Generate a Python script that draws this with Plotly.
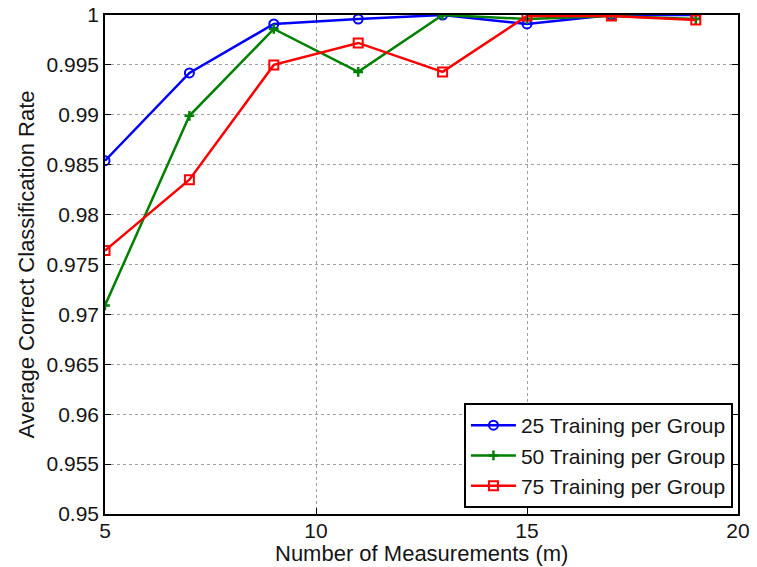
import plotly.graph_objects as go

m_values = [5, 7, 9, 11, 13, 15, 17, 19]
rate_25 = [0.9854, 0.9942, 0.9991, 0.9996, 1.0, 0.9991, 1.0, 1.0]
rate_50 = [0.9709, 0.9899, 0.9986, 0.9943, 1.0, 0.9996, 0.9999, 0.9996]
rate_75 = [0.9764, 0.9835, 0.9950, 0.9972, 0.9943, 0.9999, 0.9999, 0.9995]

x_ticks = [5, 10, 15, 20]
y_ticks = [0.95, 0.955, 0.96, 0.965, 0.97, 0.975, 0.98, 0.985, 0.99, 0.995, 1.0]
y_ticktext = ["0.95", "0.955", "0.96", "0.965", "0.97", "0.975", "0.98", "0.985", "0.99", "0.995", "1"]

FONT = "Liberation Sans, Arial, Helvetica"
TXT = "#151515"

fig = go.Figure()
fig.add_trace(go.Scatter(x=m_values, y=rate_25, mode="lines+markers", name="25 Training per Group",
                         line=dict(color="#0000FF", width=2.5),
                         marker=dict(symbol="circle-open", size=9, color="#0000FF", line=dict(width=2))))
fig.add_trace(go.Scatter(x=m_values, y=rate_50, mode="lines+markers", name="50 Training per Group",
                         line=dict(color="#008000", width=2.5),
                         marker=dict(symbol="cross-thin-open", size=7, color="#008000", line=dict(width=2.5, color="#008000"))))
fig.add_trace(go.Scatter(x=m_values, y=rate_75, mode="lines+markers", name="75 Training per Group",
                         line=dict(color="#FF0000", width=2.5),
                         marker=dict(symbol="square-open", size=9, color="#FF0000", line=dict(width=2))))

axis_common = dict(showline=True, linecolor="black", linewidth=1.5, mirror="ticks",
                   ticks="inside", ticklen=6, tickcolor="black", automargin=False,
                   showgrid=True, gridcolor="#a0a0a0", griddash="dot", gridwidth=1,
                   zeroline=False, tickfont=dict(size=21, color=TXT, family=FONT))

fig.update_xaxes(range=[5, 20], tickvals=x_ticks, ticklabelstandoff=-3, **axis_common)
fig.update_yaxes(range=[0.95, 1.0], tickvals=y_ticks, ticktext=y_ticktext,
                 title=dict(text="Average Correct Classification Rate", font=dict(size=22, color=TXT, family=FONT), standoff=6),
                 **axis_common)

fig.add_annotation(text="Number of Measurements (m)", xref="paper", yref="paper",
                   x=0.5, y=0, yshift=-39, xanchor="center", yanchor="middle", showarrow=False,
                   font=dict(size=22, color=TXT, family=FONT))

fig.update_layout(width=757, height=567, margin=dict(l=105, r=19, t=15, b=53, autoexpand=False),
                  plot_bgcolor="white", paper_bgcolor="white",
                  font=dict(family=FONT, size=21, color=TXT),
                  legend=dict(x=0.992, y=0.012, xanchor="right", yanchor="bottom",
                              bgcolor="white", bordercolor="black", borderwidth=2,
                              font=dict(size=21, color=TXT, family=FONT), tracegroupgap=0,
                              itemwidth=45))

fig.write_html("out.html")
